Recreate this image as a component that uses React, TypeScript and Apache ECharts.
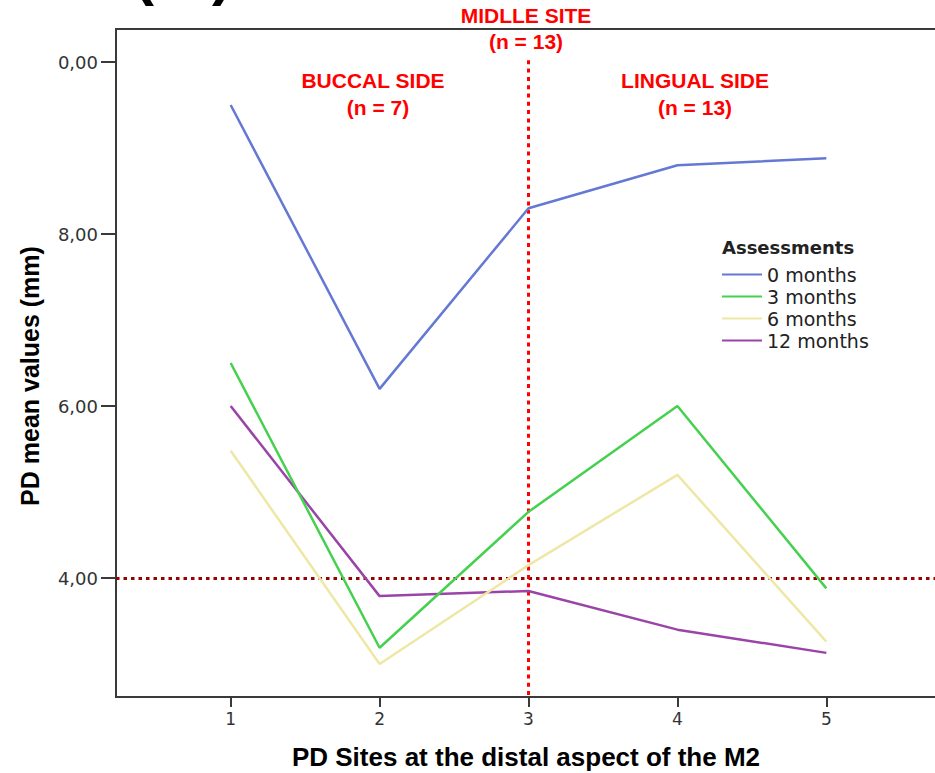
import React, { useEffect, useRef } from "react";
import * as echarts from "echarts";

// ---- data ----
const sites = [1, 2, 3, 4, 5];
const seriesNames = ["0 months", "3 months", "6 months", "12 months"];
const months0 = [9.5, 6.2, 8.3, 8.8, 8.88];
const months3 = [6.5, 3.19, 4.77, 6.0, 3.88];
const months6 = [5.48, 3.0, 4.15, 5.2, 3.26];
const months12 = [6.0, 3.79, 3.85, 3.4, 3.13];
const seriesColors = ["#6478d4", "#45d14f", "#efe7a6", "#9a44a8"];

const yTickValues = [4, 6, 8, 10];
const yTickLabels = ["4,00", "6,00", "8,00", "0,00"];
const xTickValues = [1, 2, 3, 4, 5];
const xTickLabels = ["1", "2", "3", "4", "5"];

const thresholdY = 4;
const middleSiteX = 3;

const Y_MIN = 2.617;
const Y_MAX = 10.384;

const tickFont = "'DejaVu Sans', sans-serif";
const arial = "'Liberation Sans', Arial, sans-serif";

function redText(text: string, x: number, y: number) {
  return {
    type: "text",
    x,
    y,
    silent: true,
    style: {
      text,
      fill: "#ff0000",
      font: `bold 21px ${arial}`,
      align: "center",
      verticalAlign: "middle",
      textAlign: "center",
      textVerticalAlign: "middle",
    },
  };
}

export default function App() {
  const ref = useRef<HTMLDivElement>(null);

  useEffect(() => {
    const chart = echarts.init(ref.current!, null, { renderer: "svg" });
    const allSeries = [months0, months3, months6, months12];

    const option: any = {
      animation: false,
      backgroundColor: "#ffffff",
      grid: {
        left: 116,
        top: 29,
        width: 825,
        height: 668,
        show: true,
        borderColor: "#3a3a3a",
        borderWidth: 2,
        backgroundColor: "transparent",
      },
      xAxis: {
        type: "value",
        min: 0.23,
        max: 5.77,
        splitLine: { show: false },
        axisLine: { show: true, lineStyle: { color: "#3a3a3a", width: 2 } },
        axisTick: {
          show: true,
          length: 10,
          customValues: xTickValues,
          lineStyle: { color: "#3a3a3a", width: 2 },
        },
        axisLabel: {
          customValues: xTickValues,
          formatter: (v: number) => xTickLabels[xTickValues.indexOf(v)] ?? "",
          fontFamily: tickFont,
          fontSize: 17,
          color: "#333",
          margin: 13,
        },
      },
      yAxis: {
        type: "value",
        min: Y_MIN,
        max: Y_MAX,
        splitLine: { show: false },
        axisLine: { show: true, lineStyle: { color: "#3a3a3a", width: 2 } },
        axisTick: {
          show: true,
          length: 15,
          customValues: yTickValues,
          lineStyle: { color: "#3a3a3a", width: 2 },
        },
        axisLabel: {
          customValues: yTickValues,
          formatter: (v: number) => yTickLabels[yTickValues.indexOf(v)] ?? "",
          fontFamily: tickFont,
          fontSize: 18,
          color: "#333",
          margin: 18,
        },
      },
      legend: {
        data: seriesNames,
        orient: "vertical",
        left: 722,
        top: 265,
        padding: 0,
        itemWidth: 40,
        itemHeight: 2,
        itemGap: 3,
        icon: "rect",
        selectedMode: false,
        textStyle: {
          fontFamily: tickFont,
          fontSize: 19,
          lineHeight: 19,
          color: "#222",
        },
      },
      series: [
        ...allSeries.map((vals, i) => ({
          type: "line",
          name: seriesNames[i],
          data: sites.map((s, j) => [s, vals[j]]),
          symbol: "none",
          color: seriesColors[i],
          itemStyle: { color: seriesColors[i] },
          lineStyle: { color: seriesColors[i], width: 2.5 },
          z: 10 - i,
        })),
        {
          type: "line",
          name: "__marks",
          data: [],
          z: 20,
          markLine: {
            silent: true,
            symbol: "none",
            label: { show: false },
            animation: false,
            data: [
              {
                yAxis: thresholdY,
                lineStyle: { color: "#990000", width: 3, type: [3.5, 4], cap: "butt" },
              },
              [
                {
                  coord: [middleSiteX, 10.02],
                  lineStyle: { color: "#ff0000", width: 3, type: [4, 4.3], cap: "butt" },
                },
                { coord: [middleSiteX, Y_MIN] },
              ],
            ],
          },
        },
      ],
      graphic: [
        redText("MIDLLE SITE", 526, 15),
        redText("(n = 13)", 526, 41),
        redText("BUCCAL SIDE", 373, 80),
        redText("(n = 7)", 378, 107),
        redText("LINGUAL SIDE", 695, 80),
        redText("(n = 13)", 695, 107),
        {
          type: "text",
          x: 722,
          y: 247,
          silent: true,
          style: {
            text: "Assessments",
            fill: "#222",
            font: `bold 18px ${tickFont}`,
            align: "left",
            verticalAlign: "middle",
            textAlign: "left",
            textVerticalAlign: "middle",
          },
        },
        {
          type: "text",
          x: 526,
          y: 757,
          silent: true,
          style: {
            text: "PD Sites at the distal aspect of the M2",
            fill: "#000",
            font: `bold 26px ${arial}`,
            align: "center",
            verticalAlign: "middle",
            textAlign: "center",
            textVerticalAlign: "middle",
          },
        },
        {
          type: "text",
          x: 30,
          y: 376,
          rotation: Math.PI / 2,
          silent: true,
          style: {
            text: "PD mean values (mm)",
            fill: "#000",
            font: `bold 25px ${arial}`,
            align: "center",
            verticalAlign: "middle",
            textAlign: "center",
            textVerticalAlign: "middle",
          },
        },
        {
          type: "text",
          x: 134,
          y: -27,
          silent: true,
          style: {
            text: "(",
            fill: "#000",
            font: `bold 60px ${arial}`,
            align: "left",
            verticalAlign: "middle",
            textAlign: "left",
            textVerticalAlign: "middle",
          },
        },
        {
          type: "text",
          x: 212,
          y: -27,
          silent: true,
          style: {
            text: ")",
            fill: "#000",
            font: `bold 60px ${arial}`,
            align: "left",
            verticalAlign: "middle",
            textAlign: "left",
            textVerticalAlign: "middle",
          },
        },
      ],
    };

    chart.setOption(option);
    return () => chart.dispose();
  }, []);

  return (
    <div
      style={{
        position: "fixed",
        left: 0,
        top: 0,
        width: 935,
        height: 773,
        overflow: "hidden",
        background: "#fff",
      }}
    >
      <div ref={ref} style={{ width: 960, height: 773 }} />
    </div>
  );
}
